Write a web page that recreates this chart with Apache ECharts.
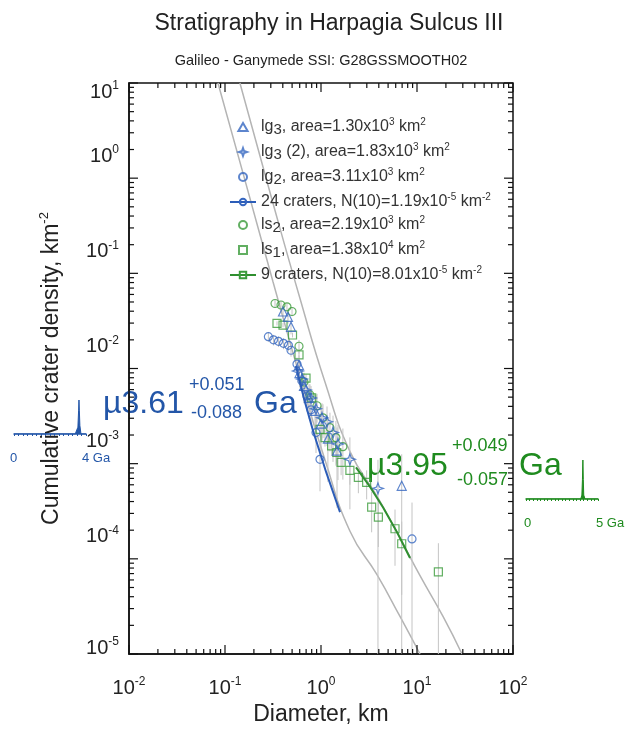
<!DOCTYPE html>
<html>
<head>
<meta charset="UTF-8">
<title>Stratigraphy in Harpagia Sulcus III</title>
<style>
html,body{margin:0;padding:0;background:#fff;}
#main{width:628px;height:731px;}
</style>
</head>
<body>
<div id="main"></div>
<script src="https://cdn.jsdelivr.net/npm/echarts@6/dist/echarts.min.js"></script>
<script>
// [diameter km, cumulative density km^-2]
var lg3 = [[0.402,0.0397],[0.453,0.0348],[0.487,0.0274],[0.590,0.01084],[0.597,0.00895],[0.665,0.00655],
  [0.750,0.00491],[0.866,0.00359],[1.0,0.00263],[1.18,0.00183],[1.468,0.00137],[6.93,0.000585]];
var lg3b = [[0.575,0.0094],[0.634,0.00775],[0.698,0.00594],[0.787,0.00491],[0.887,0.00377],[1.024,0.00303],
  [1.155,0.00276],[1.334,0.00212],[1.503,0.00161],[2.0,0.00111],[3.92,0.00055]];
var lg2 = [[0.283,0.0216],[0.320,0.0200],[0.361,0.0193],[0.407,0.0184],[0.458,0.0175],[0.487,0.01555],
  [0.562,0.01112],[0.634,0.00738],[0.715,0.00515],[0.787,0.00368],[0.887,0.00212],[0.976,0.00111],[8.87,0.000162]];
var ls2 = [[0.332,0.0482],[0.383,0.0465],[0.442,0.0445],[0.499,0.0397],[0.590,0.01714],[0.665,0.00721],
  [0.768,0.00527],[0.909,0.00406],[1.049,0.00303],[1.24,0.00239],[1.43,0.00188],[1.69,0.00151]];
var ls1 = [[0.348,0.0298],[0.402,0.0286],[0.505,0.0225],[0.590,0.0139],[0.698,0.00794],[0.800,0.00491],
  [0.976,0.00229],[1.10,0.00188],[1.29,0.00154],[1.46,0.00131],[1.62,0.00103],[2.0,0.000849],[2.45,0.000717],
  [2.99,0.000636],[3.37,0.000349],[3.96,0.000274],[5.90,0.000207],[6.93,0.000144],[16.7,0.0000731]];
var areas = {lg3: 1.30e3, lg3b: 1.83e3, lg2: 3.11e3, ls2: 2.19e3, ls1: 1.38e4};

// fitted segments and isochrons
var fitBlue = [[0.549,0.0106],[0.826,0.00222],[1.578,0.00031]];
var fitGreen = [[2.315,0.000912],[4.42,0.000349],[8.46,0.000102]];
var iso361 = [[0.0845,10],[0.1616,0.948],[0.3162,0.0817],[0.6043,0.00813],[1.10,0.00110],[2.005,0.000195],
  [3.83,0.0000681],[6.65,0.0000248],[10.75,0.00001]];
var iso395 = [[0.1430,10],[0.3162,0.545],[0.6043,0.0543],[1.10,0.00721],[2.005,0.00134],[3.83,0.000455],
  [6.65,0.000166],[10.75,0.0000665],[18.66,0.0000248],[29.43,0.00001]];

// age distributions for the small insets (Ga, relative)
var agesBlue = [0,3.40,3.50,3.55,3.59,3.61,3.63,3.66,3.72,4];
var probBlue = [0,0,0.03,0.2,0.7,1,0.7,0.25,0,0];
var agesGreen = [0,3.80,3.88,3.92,3.95,3.98,4.01,4.10,5];
var probGreen = [0,0,0.1,0.5,1,0.5,0.1,0,0];

var xMajor = [0.01,0.1,1,10,100];
var yMajor = [1e-5,1e-4,1e-3,1e-2,1e-1,1,10];
var minorMult = [2,3,4,5,6,7,8,9];

var BLUE = '#3566c0', GREEN = '#3b9b3b';
var BLUE_TXT = '#2356a8', GREEN_TXT = '#1f8b1f';
var FONT = 'Liberation Sans, Arial, sans-serif';

function errBars(pts, area) {
  return pts.map(function (p) {
    var n = p[1] * area, e = p[1] / Math.sqrt(n);
    return [p[0], Math.max(p[1] - e, 1e-7), p[1] + e];
  });
}
var bars = [].concat(errBars(lg3, areas.lg3), errBars(lg3b, areas.lg3b), errBars(lg2, areas.lg2),
  errBars(ls2, areas.ls2), errBars(ls1, areas.ls1));

function withMinor(majors) {
  var out = [];
  majors.forEach(function (m, i) {
    out.push(m);
    if (i < majors.length - 1) minorMult.forEach(function (k) { out.push(m * k); });
  });
  return out;
}
var xTicks = withMinor(xMajor).map(function (v) { return [v, 1]; });
var yTicks = withMinor(yMajor).map(function (v) { return [1, v]; });

function isMajor(v) {
  var l = Math.log10(v);
  return Math.abs(l - Math.round(l)) < 1e-6;
}
function tickLine(x1, y1, x2, y2) {
  return {type: 'line', shape: {x1: x1, y1: y1, x2: x2, y2: y2}, style: {stroke: '#111', lineWidth: 1.2}};
}
function xTickItem(params, api) {
  var v = api.value(0), len = isMajor(v) ? 9 : 5;
  var b = api.coord([v, 1e-5]), t = api.coord([v, 10]);
  return {type: 'group', children: [tickLine(b[0], b[1], b[0], b[1] - len), tickLine(t[0], t[1], t[0], t[1] + len)]};
}
function yTickItem(params, api) {
  var v = api.value(1), len = isMajor(v) ? 9 : 5;
  var l = api.coord([0.01, v]), r = api.coord([100, v]);
  return {type: 'group', children: [tickLine(l[0], l[1], l[0] + len, l[1]), tickLine(r[0], r[1], r[0] - len, r[1])]};
}
function barItem(params, api) {
  var lo = api.coord([api.value(0), api.value(1)]);
  var hi = api.coord([api.value(0), api.value(2)]);
  return {type: 'line', shape: {x1: lo[0], y1: lo[1], x2: hi[0], y2: hi[1]},
    style: {stroke: '#c4c4c4', lineWidth: 1}};
}

function xLabel(v) {
  return '{b|10}{e|' + Math.round(Math.log10(v)) + '}';
}
// y labels sit above their ticks in the reference, the end ones are pulled inside the frame;
// an empty spacer line shifts the centred label block
function yLabel(v) {
  var e = Math.round(Math.log10(v));
  var txt = '{b|10}{e|' + e + '}';
  if (e === 1) return '{s18| }\n' + txt;
  if (e === -5) return txt + '\n{s12| }';
  return txt + '\n{s44| }';
}
var baseB = {fontSize: 20, lineHeight: 24, fontFamily: FONT, color: '#222'};
var baseE = {fontSize: 12, lineHeight: 12, verticalAlign: 'top', fontFamily: FONT, color: '#222'};
var xRich = {b: baseB, e: baseE};
var yRich = {
  b: baseB, e: baseE,
  s18: {fontSize: 2, lineHeight: 18}, s12: {fontSize: 2, lineHeight: 12}, s44: {fontSize: 2, lineHeight: 44}
};

var legendText = {
  'lg3': '{t|lg}{sub|3}{t|, area=1.30x10}{sup|3}{t| km}{sup|2}',
  'lg3 (2)': '{t|lg}{sub|3}{t| (2), area=1.83x10}{sup|3}{t| km}{sup|2}',
  'lg2': '{t|lg}{sub|2}{t|, area=3.11x10}{sup|3}{t| km}{sup|2}',
  '24 craters': '{t|24 craters, N(10)=1.19x10}{sup|-5}{t| km}{sup|-2}',
  'ls2': '{t|ls}{sub|2}{t|, area=2.19x10}{sup|3}{t| km}{sup|2}',
  'ls1': '{t|ls}{sub|1}{t|, area=1.38x10}{sup|4}{t| km}{sup|2}',
  '9 craters': '{t|9 craters, N(10)=8.01x10}{sup|-5}{t| km}{sup|-2}'
};

var star4 = 'path://M0,-10 L2.6,-2.6 L10,0 L2.6,2.6 L0,10 L-2.6,2.6 L-10,0 L-2.6,-2.6 Z';
var tri = 'path://M5,0 L10,8.66 L0,8.66 Z';
var sq = 'path://M0,0 L10,0 L10,10 L0,10 Z';
function hollow(c) {
  return {color: 'rgba(255,255,255,0)', borderColor: c, borderWidth: 1.2};
}

var chart = echarts.init(document.getElementById('main'));
chart.setOption({
  animation: false,
  backgroundColor: '#fff',
  textStyle: {fontFamily: FONT},
  title: [
    {text: 'Stratigraphy in Harpagia Sulcus III', left: 324, textAlign: 'center', top: 7,
      textStyle: {fontSize: 23, fontWeight: 'normal', color: '#222', fontFamily: FONT}},
    {text: 'Galileo - Ganymede SSI: G28GSSMOOTH02', left: 316, textAlign: 'center', top: 48,
      textStyle: {fontSize: 14.5, fontWeight: 'normal', color: '#222', fontFamily: FONT}}
  ],
  legend: {
    data: ['lg3', 'lg3 (2)', 'lg2', '24 craters', 'ls2', 'ls1', '9 craters'],
    orient: 'vertical', left: 224, top: 112, itemGap: 5, itemWidth: 26, itemHeight: 8,
    selectedMode: false,
    formatter: function (name) { return legendText[name]; },
    textStyle: {
      color: '#333',
      rich: {
        t: {fontSize: 16, lineHeight: 20, fontFamily: FONT, color: '#333'},
        sub: {fontSize: 15, lineHeight: 15, verticalAlign: 'bottom', fontFamily: FONT, color: '#333'},
        sup: {fontSize: 10, lineHeight: 10, verticalAlign: 'top', fontFamily: FONT, color: '#333'}
      }
    }
  },
  grid: [
    {left: 129, right: 115, top: 83, bottom: 73, show: true, borderColor: '#111', borderWidth: 1.5},
    {left: 14, top: 400, width: 72, height: 34},
    {left: 526, top: 460, width: 72, height: 39}
  ],
  xAxis: [
    {type: 'log', logBase: 10, min: 0.01, max: 100, gridIndex: 0,
      name: 'Diameter, km', nameLocation: 'middle', nameGap: 49,
      nameTextStyle: {fontSize: 23, color: '#222', fontFamily: FONT},
      axisLine: {show: true, lineStyle: {color: '#111', width: 1.5}},
      axisTick: {show: false}, splitLine: {show: false},
      axisLabel: {margin: 22, formatter: xLabel, rich: xRich, showMinLabel: true, showMaxLabel: true}},
    {type: 'value', gridIndex: 1, min: 0, max: 4, interval: 0.25,
      axisLine: {lineStyle: {color: BLUE_TXT, width: 1.5}},
      axisTick: {length: 2, lineStyle: {color: BLUE_TXT}}, splitLine: {show: false},
      axisLabel: {color: BLUE_TXT, fontSize: 13, margin: 18, align: 'left', padding: [0, 0, 0, -4],
        showMaxLabel: true,
        formatter: function (v) { return v === 0 ? '0' : (v === 4 ? '4 Ga' : ''); }}},
    {type: 'value', gridIndex: 2, min: 0, max: 5, interval: 0.25,
      axisLine: {lineStyle: {color: GREEN_TXT, width: 1.5}},
      axisTick: {length: 2, lineStyle: {color: GREEN_TXT}}, splitLine: {show: false},
      axisLabel: {color: GREEN_TXT, fontSize: 13, margin: 18, align: 'left', padding: [0, 0, 0, -2],
        showMaxLabel: true,
        formatter: function (v) { return v === 0 ? '0' : (v === 5 ? '5 Ga' : ''); }}}
  ],
  yAxis: [
    {type: 'log', logBase: 10, min: 1e-5, max: 10, gridIndex: 0,
      name: '{a|Cumulative crater density, km}{s|-2}', nameLocation: 'middle', nameGap: 64, nameRotate: 90,
      nameTextStyle: {rich: {
        a: {fontSize: 23, lineHeight: 27, color: '#222', fontFamily: FONT},
        s: {fontSize: 13, lineHeight: 13, verticalAlign: 'top', color: '#222', fontFamily: FONT}}},
      axisLine: {show: true, lineStyle: {color: '#111', width: 1.5}},
      axisTick: {show: false}, splitLine: {show: false},
      axisLabel: {margin: 10, formatter: yLabel, rich: yRich, showMinLabel: true, showMaxLabel: true}},
    {type: 'value', gridIndex: 1, min: 0, max: 1, show: false},
    {type: 'value', gridIndex: 2, min: 0, max: 1, show: false}
  ],
  series: [
    {name: 'iso361', type: 'line', data: iso361, smooth: 0.5, showSymbol: false, silent: true, z: 1,
      lineStyle: {color: '#b4b4b4', width: 1.5}},
    {name: 'iso395', type: 'line', data: iso395, smooth: 0.5, showSymbol: false, silent: true, z: 1,
      lineStyle: {color: '#b4b4b4', width: 1.5}},
    {name: 'bars', type: 'custom', data: bars, renderItem: barItem, clip: true, silent: true, z: 2,
      encode: {x: 0, y: [1, 2]}},
    {name: 'lg3', type: 'scatter', data: lg3, symbol: tri, symbolSize: 9, itemStyle: hollow(BLUE), z: 5},
    {name: 'lg3 (2)', type: 'scatter', data: lg3b, symbol: star4, symbolSize: 11, itemStyle: hollow(BLUE), z: 5},
    {name: 'lg2', type: 'scatter', data: lg2, symbol: 'circle', symbolSize: 8, itemStyle: hollow(BLUE), z: 5},
    {name: '24 craters', type: 'line', data: fitBlue, smooth: true, symbol: 'circle', symbolSize: 6,
      showSymbol: false, itemStyle: hollow(BLUE), lineStyle: {color: '#2c5db8', width: 2}, z: 6},
    {name: 'ls2', type: 'scatter', data: ls2, symbol: 'circle', symbolSize: 8, itemStyle: hollow(GREEN), z: 4},
    {name: 'ls1', type: 'scatter', data: ls1, symbol: sq, symbolSize: 8, itemStyle: hollow(GREEN), z: 4},
    {name: '9 craters', type: 'line', data: fitGreen, smooth: true, symbol: sq, symbolSize: 6,
      showSymbol: false, itemStyle: hollow(GREEN), lineStyle: {color: '#2f8f2f', width: 2}, z: 6},
    {name: 'xticks', type: 'custom', data: xTicks, renderItem: xTickItem, silent: true, z: 10},
    {name: 'yticks', type: 'custom', data: yTicks, renderItem: yTickItem, silent: true, z: 10},
    {name: 'ageBlue', type: 'line', xAxisIndex: 1, yAxisIndex: 1, showSymbol: false, silent: true,
      data: agesBlue.map(function (a, i) { return [a, probBlue[i]]; }),
      lineStyle: {color: BLUE_TXT, width: 1}, areaStyle: {color: BLUE_TXT, opacity: 1}},
    {name: 'ageGreen', type: 'line', xAxisIndex: 2, yAxisIndex: 2, showSymbol: false, silent: true,
      data: agesGreen.map(function (a, i) { return [a, probGreen[i]]; }),
      lineStyle: {color: GREEN_TXT, width: 1}, areaStyle: {color: GREEN_TXT, opacity: 1}}
  ],
  graphic: [
    {type: 'text', left: 103, top: 388, style: {text: 'µ3.61', fontSize: 32, fill: BLUE_TXT, fontFamily: FONT}},
    {type: 'text', left: 189, top: 376, style: {text: '+0.051', fontSize: 18, fill: BLUE_TXT, fontFamily: FONT}},
    {type: 'text', left: 191, top: 404, style: {text: '-0.088', fontSize: 18, fill: BLUE_TXT, fontFamily: FONT}},
    {type: 'text', left: 254, top: 388, style: {text: 'Ga', fontSize: 32, fill: BLUE_TXT, fontFamily: FONT}},
    {type: 'text', left: 367, top: 450, style: {text: 'µ3.95', fontSize: 32, fill: GREEN_TXT, fontFamily: FONT}},
    {type: 'text', left: 452, top: 437, style: {text: '+0.049', fontSize: 18, fill: GREEN_TXT, fontFamily: FONT}},
    {type: 'text', left: 457, top: 471, style: {text: '-0.057', fontSize: 18, fill: GREEN_TXT, fontFamily: FONT}},
    {type: 'text', left: 519, top: 450, style: {text: 'Ga', fontSize: 32, fill: GREEN_TXT, fontFamily: FONT}}
  ]
});
</script>
</body>
</html>
